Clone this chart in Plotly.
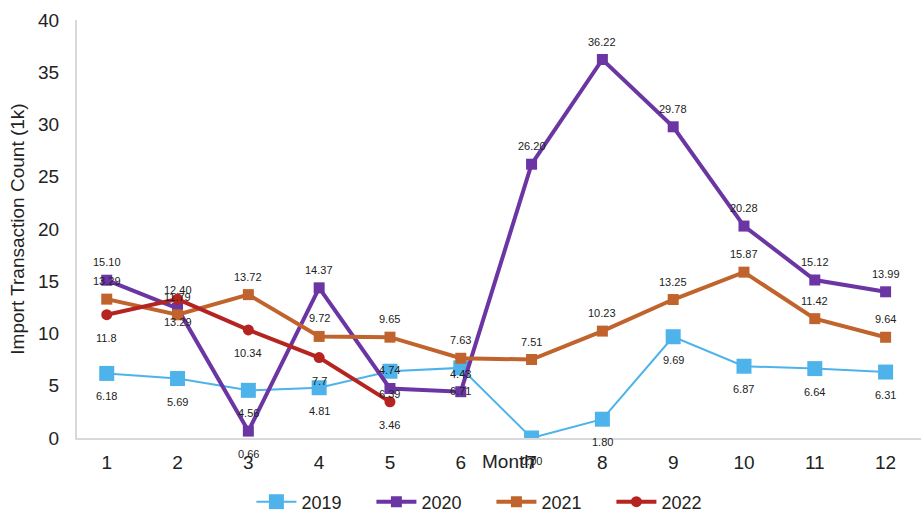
import plotly.graph_objects as go

months = [1, 2, 3, 4, 5, 6, 7, 8, 9, 10, 11, 12]

y2019 = [6.18, 5.69, 4.56, 4.81, 6.39, 6.71, 0.00, 1.80, 9.69, 6.87, 6.64, 6.31]
y2020 = [15.10, 12.40, 0.66, 14.37, 4.74, 4.43, 26.20, 36.22, 29.78, 20.28, 15.12, 13.99]
y2021 = [13.29, 11.79, 13.72, 9.72, 9.65, 7.63, 7.51, 10.23, 13.25, 15.87, 11.42, 9.64]
months2022 = [1, 2, 3, 4, 5]
y2022 = [11.8, 13.29, 10.34, 7.7, 3.46]

FONT = "Liberation Sans, Arial, sans-serif"

fig = go.Figure()

series = [
    dict(name="2019", x=months, y=y2019, color="#4DB3EA", width=2,
         symbol="square", size=15, fmt="{:.2f}"),
    dict(name="2020", x=months, y=y2020, color="#6B36A3", width=4,
         symbol="square", size=11, fmt="{:.2f}"),
    dict(name="2021", x=months, y=y2021, color="#C0632C", width=4,
         symbol="square", size=11, fmt="{:.2f}"),
    dict(name="2022", x=months2022, y=y2022, color="#B52420", width=4,
         symbol="circle", size=11, fmt="{}"),
]

for s in series:
    fig.add_trace(go.Scatter(
        x=s["x"], y=s["y"], name=s["name"], mode="lines+markers",
        line=dict(color=s["color"], width=s["width"]),
        marker=dict(color=s["color"], symbol=s["symbol"], size=s["size"],
                    line=dict(width=0)),
    ))

# value labels: 2019 and 2022 sit below their points, 2020 and 2021 above
label_side = {"2019": "below", "2020": "above", "2021": "above", "2022": "below"}
for s in series:
    for xv, yv in zip(s["x"], s["y"]):
        side = label_side[s["name"]]
        if s["name"] == "2020" and xv == 3:
            side = "below"
        fig.add_annotation(
            x=xv, y=yv, text=s["fmt"].format(yv), showarrow=False,
            yshift=18 if side == "above" else -23,
            font=dict(family=FONT, size=11, color="#222222"),
        )

fig.add_annotation(
    x=0.511, y=-0.057, xref="paper", yref="paper", text="Month",
    showarrow=False, yanchor="middle",
    font=dict(family=FONT, size=19, color="#222222"),
)

fig.update_layout(
    width=921, height=512,
    margin=dict(l=77, r=0, t=20, b=74, autoexpand=False),
    paper_bgcolor="white", plot_bgcolor="white",
    font=dict(family=FONT, size=19, color="#222222"),
    showlegend=True,
    legend=dict(orientation="h", x=0.491, xanchor="center", y=-0.153,
                yanchor="middle", font=dict(size=18), itemwidth=40,
                entrywidth=65, entrywidthmode="pixels", tracegroupgap=0),
    xaxis=dict(range=[0.58, 12.5], tickmode="array", tickvals=months,
               showgrid=False, zeroline=False, showline=True,
               linecolor="#D9D9D9", linewidth=2, ticks="",
               ticklabelstandoff=6, automargin=False),
    yaxis=dict(range=[0, 40], dtick=5, showgrid=False, zeroline=False,
               showline=True, linecolor="#D9D9D9", linewidth=2, ticks="",
               ticklabelstandoff=12, automargin=False,
               title=dict(text="Import Transaction Count (1k)", standoff=8,
                          font=dict(size=19))),
)

fig.write_html("out.html")
